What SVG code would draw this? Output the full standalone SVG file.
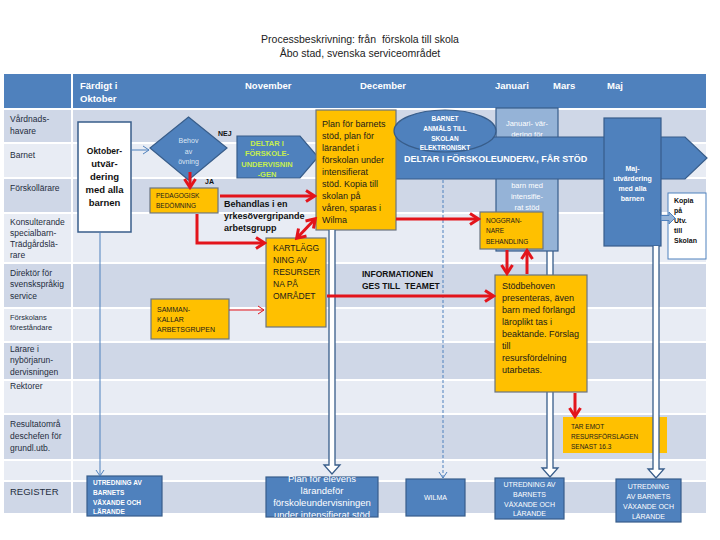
<svg xmlns="http://www.w3.org/2000/svg" width="720" height="540" viewBox="0 0 720 540">
<defs>
<style>
text{font-family:"Liberation Sans",Arial,sans-serif}
.title{font-size:10.5px;fill:#222;text-anchor:middle;white-space:pre}
.hd{font-size:9.5px;font-weight:bold;fill:#fff}
.rl{font-size:8.5px;fill:#1F2D3D}
.rs{font-size:7.5px;fill:#1F2D3D}
.dk{fill:#CFD7E7}
.lt{fill:#E8ECF4}
.yel{fill:#FFC000;stroke:#6A7480;stroke-width:1.2}
.blu{fill:#4F81BD;stroke:#385D8A;stroke-width:1.2}
.yt{font-size:9px;fill:#1a1a1a}
.ys{font-size:6.5px;fill:#1a1a1a}
.wt{fill:#fff}
.bk{font-weight:bold;fill:#111}
.red{stroke:#E3141B;stroke-width:3;fill:none}
.dbl{fill:#fff;stroke:#385D8A;stroke-width:1.3}
.thin{stroke:#4F81BD;stroke-width:1;fill:none}
</style>
<marker id="rh" markerUnits="userSpaceOnUse" markerWidth="14" markerHeight="14" viewBox="0 0 14 14" refX="11" refY="7" orient="auto-start-reverse">
<path d="M3,1.5 L11.5,7 L3,12.5" stroke="#E3141B" stroke-width="3" fill="none"/>
</marker>
<marker id="rt" markerUnits="userSpaceOnUse" markerWidth="10" markerHeight="10" viewBox="0 0 10 10" refX="8" refY="5" orient="auto">
<path d="M2,1 L8,5 L2,9" stroke="#E3141B" stroke-width="1" fill="none"/>
</marker>
<marker id="bh" markerUnits="userSpaceOnUse" markerWidth="10" markerHeight="10" viewBox="0 0 10 10" refX="8" refY="5" orient="auto">
<path d="M2,1 L8,5 L2,9" stroke="#4F81BD" stroke-width="1" fill="none"/>
</marker>
</defs>

<rect width="720" height="540" fill="#fff"/>
<text class="title" x="360" y="43" xml:space="preserve">Processbeskrivning: från  förskola till skola</text>
<text class="title" x="360" y="57">Åbo stad, svenska serviceområdet</text>

<g id="table">
<rect x="4" y="74" width="702" height="34" fill="#4F81BD"/>
<rect x="4" y="110" width="702" height="32" class="dk"/>
<rect x="4" y="144" width="702" height="33" class="lt"/>
<rect x="4" y="179" width="702" height="33" class="dk"/>
<rect x="4" y="214" width="702" height="48" class="lt"/>
<rect x="4" y="264" width="702" height="43" class="dk"/>
<rect x="4" y="309" width="702" height="32" class="lt"/>
<rect x="4" y="343" width="702" height="36" class="dk"/>
<rect x="4" y="381" width="702" height="32" class="lt"/>
<rect x="4" y="415" width="702" height="44" class="dk"/>
<rect x="4" y="461" width="702" height="19" class="lt"/>
<rect x="4" y="482" width="702" height="31" class="dk"/>
<line x1="72" y1="74" x2="72" y2="513" stroke="#fff" stroke-width="2"/>
<text class="hd" x="80" y="89">Färdigt i</text>
<text class="hd" x="80" y="102">Oktober</text>
<text class="hd" x="245" y="89">November</text>
<text class="hd" x="360" y="89">December</text>
<text class="hd" x="495" y="89">Januari</text>
<text class="hd" x="553" y="89">Mars</text>
<text class="hd" x="607" y="89">Maj</text>
<text class="rl" x="10" y="122">Vårdnads-</text>
<text class="rl" x="10" y="134">havare</text>
<text class="rl" x="10" y="158">Barnet</text>
<text class="rl" x="10" y="191">Förskollärare</text>
<text class="rl" x="10" y="225">Konsulterande</text>
<text class="rl" x="10" y="236">specialbarn-</text>
<text class="rl" x="10" y="247">Trädgårdslä-</text>
<text class="rl" x="10" y="258">rare</text>
<text class="rl" x="10" y="276">Direktör för</text>
<text class="rl" x="10" y="287">svenskspråkig</text>
<text class="rl" x="10" y="299">service</text>
<text class="rs" x="10" y="320">Förskolans</text>
<text class="rs" x="10" y="330">föreståndare</text>
<text class="rl" x="10" y="352">Lärare i</text>
<text class="rl" x="10" y="363">nybörjarun-</text>
<text class="rl" x="10" y="375">dervisningen</text>
<text class="rl" x="10" y="389">Rektorer</text>
<text class="rl" x="10" y="427">Resultatområ</text>
<text class="rl" x="10" y="439">deschefen för</text>
<text class="rl" x="10" y="451">grundl.utb.</text>
<text class="rl" x="10" y="495" style="font-size:9.5px">REGISTER</text>
</g>

<g id="connectors-under">
<path class="dbl" d="M547,251 V468 H542 L550,477 L558,468 H553 V251"/>
</g>

<g id="oktober">
<rect x="78" y="122" width="53" height="110" fill="#fff" stroke="#385D8A" stroke-width="1.5"/>
<g class="bk" text-anchor="middle" style="font-size:9.5px">
<text x="104.5" y="154" style="font-size:8.5px">Oktober-</text>
<text x="104.5" y="167">utvär-</text>
<text x="104.5" y="180">dering</text>
<text x="104.5" y="193">med alla</text>
<text x="104.5" y="206">barnen</text>
</g>
</g>

<g id="behov">
<path d="M188.5,117 L227,148 L188.5,180 L150,148 Z" class="blu"/>
<g text-anchor="middle" style="font-size:7px" fill="#DCE6F4">
<text x="188.5" y="143">Behov</text>
<text x="188.5" y="154">av</text>
<text x="188.5" y="164">övning</text>
</g>
<text x="218" y="136" class="bk" style="font-size:7px">NEJ</text>
<text x="205" y="184" class="bk" style="font-size:7px">JA</text>
</g>

<g id="deltar1">
<path d="M237,136 H300 L318,157 L300,178 H237 Z" class="blu"/>
<g text-anchor="middle" font-weight="bold" style="font-size:7.5px" fill="#C6EF4E">
<text x="267" y="145.5">DELTAR I</text>
<text x="267" y="156">FÖRSKOLE-</text>
<text x="267" y="166.5">UNDERVISNIN</text>
<text x="267" y="177">-GEN</text>
</g>
</g>

<g id="januari">
<rect x="496" y="108" width="62" height="143" fill="#95B3D7" stroke="#385D8A" stroke-width="1.2"/>
<g class="wt" text-anchor="middle" style="font-size:7.5px">
<text x="527" y="126">Januari- vär-</text>
<text x="527" y="137">dering för</text>
<text x="527" y="188">barn med</text>
<text x="527" y="199">intensifie-</text>
<text x="527" y="210">rat stöd</text>
</g>
</g>

<g id="bigarrow">
<path d="M390,137 H685 L707,158 L685,179 H390 Z" class="blu"/>
<text x="404" y="162" class="wt" font-weight="bold" style="font-size:9px">DELTAR I FÖRSKOLEUNDERV., FÅR STÖD</text>
</g>

<g id="plan">
<rect x="316" y="110" width="80" height="120" class="yel"/>
<g class="yt">
<text x="322" y="127">Plan för barnets</text>
<text x="322" y="139">stöd, plan för</text>
<text x="322" y="151">lärandet i</text>
<text x="322" y="163">förskolan under</text>
<text x="322" y="175">intensifierat</text>
<text x="322" y="187">stöd. Kopia till</text>
<text x="322" y="199">skolan på</text>
<text x="322" y="211">våren, sparas i</text>
<text x="322" y="223">Wilma</text>
</g>
</g>

<g id="anmals">
<ellipse cx="445" cy="131" rx="51" ry="21" class="blu"/>
<g class="wt" text-anchor="middle" font-weight="bold" style="font-size:6.5px">
<text x="445" y="121">BARNET</text>
<text x="445" y="131">ANMÄLS TILL</text>
<text x="445" y="141">SKOLAN</text>
<text x="445" y="150">ELEKTRONISKT</text>
</g>
</g>

<g id="maj">
<rect x="604" y="118" width="57" height="128" class="blu"/>
<g class="wt" text-anchor="middle" font-weight="bold" style="font-size:7px">
<text x="632.5" y="171">Maj-</text>
<text x="632.5" y="181">utvärdering</text>
<text x="632.5" y="191">med alla</text>
<text x="632.5" y="201">barnen</text>
</g>
</g>

<g id="kopia">
<rect x="668" y="193" width="38" height="66" fill="#fff" stroke="#4F81BD" stroke-width="1"/>
<g class="bk" style="font-size:7px">
<text x="674" y="203">Kopia</text>
<text x="674" y="213">på</text>
<text x="674" y="223">Utv.</text>
<text x="674" y="233">till</text>
<text x="674" y="243">Skolan</text>
</g>
</g>

<g id="pedagogisk">
<rect x="150" y="188" width="68" height="25" class="yel"/>
<text x="156" y="198" class="ys">PEDAGOGISK</text>
<text x="156" y="208" class="ys">BEDÖMNING</text>
</g>

<g id="behandlas">
<g class="bk" style="font-size:9px">
<text x="224" y="207">Behandlas i en</text>
<text x="224" y="219">yrkesövergripande</text>
<text x="224" y="231">arbetsgrupp</text>
</g>
</g>

<g id="noggrannare">
<rect x="480" y="212" width="63" height="37" class="yel"/>
<text x="486" y="223" class="ys">NOGGRAN-</text>
<text x="486" y="233" class="ys">NARE</text>
<text x="486" y="244" class="ys">BEHANDLING</text>
</g>

<g id="kartlagg">
<rect x="266" y="238" width="60" height="89" class="yel"/>
<g class="yt" style="font-size:8.5px">
<text x="273" y="251">KARTLÄGG</text>
<text x="273" y="263">NING AV</text>
<text x="273" y="275">RESURSER</text>
<text x="273" y="287">NA PÅ</text>
<text x="273" y="299">OMRÅDET</text>
</g>
</g>

<g id="samman">
<rect x="151" y="299" width="78" height="40" class="yel"/>
<text x="157" y="312" class="ys" style="font-size:7px">SAMMAN-</text>
<text x="157" y="322" class="ys" style="font-size:7px">KALLAR</text>
<text x="157" y="332" class="ys" style="font-size:7px">ARBETSGRUPEN</text>
</g>

<g id="informationen">
<text x="362" y="277" class="bk" style="font-size:8.5px">INFORMATIONEN</text>
<text x="362" y="289" class="bk" style="font-size:8.5px;white-space:pre" xml:space="preserve">GES TILL  TEAMET</text>
</g>

<g id="stodbehoven">
<rect x="495" y="275" width="92" height="117" class="yel"/>
<g class="yt">
<text x="502" y="289">Stödbehoven</text>
<text x="502" y="301">presenteras, även</text>
<text x="502" y="313">barn med förlängd</text>
<text x="502" y="325">läroplikt tas i</text>
<text x="502" y="337">beaktande. Förslag</text>
<text x="502" y="349">till</text>
<text x="502" y="361">resursfördelning</text>
<text x="502" y="373">utarbetas.</text>
</g>
</g>

<g id="taremot">
<rect x="563" y="417" width="104" height="36" fill="#FFC000"/>
<text x="571" y="429" class="ys">TAR EMOT</text>
<text x="571" y="439" class="ys">RESURSFÖRSLAGEN</text>
<text x="571" y="449" class="ys">SENAST 16.3</text>
</g>

<g id="utredning1">
<rect x="87" y="476" width="75" height="40" class="blu"/>
<g class="wt" font-weight="bold" style="font-size:6.5px">
<text x="93" y="485">UTREDNING AV</text>
<text x="93" y="495">BARNETS</text>
<text x="93" y="505">VÄXANDE OCH</text>
<text x="93" y="514">LÄRANDE</text>
</g>
</g>

<g id="planelevens">
<clipPath id="pc"><rect x="266" y="476" width="112" height="41"/></clipPath>
<rect x="266" y="477" width="112" height="40" class="blu"/>
<g class="wt" text-anchor="middle" style="font-size:9.5px" clip-path="url(#pc)">
<text x="322" y="482">Plan för elevens</text>
<text x="322" y="494">lärandeför</text>
<text x="322" y="506">förskoleundervisningen</text>
<text x="322" y="518">under intensifierat stöd</text>
</g>
</g>

<g id="wilma">
<rect x="406" y="479" width="59" height="37" class="blu"/>
<text x="435.5" y="500" class="wt" text-anchor="middle" style="font-size:7px">WILMA</text>
</g>

<g id="utredning2">
<rect x="495" y="478" width="69" height="41" class="blu"/>
<g class="wt" text-anchor="middle" style="font-size:7px">
<text x="529.5" y="487">UTREDNING AV</text>
<text x="529.5" y="497">BARNETS</text>
<text x="529.5" y="507">VÄXANDE OCH</text>
<text x="529.5" y="516">LÄRANDE</text>
</g>
</g>

<g id="utredning3">
<rect x="616" y="479" width="65" height="43" class="blu"/>
<g class="wt" text-anchor="middle" style="font-size:7px">
<text x="648.5" y="489">UTREDNING</text>
<text x="648.5" y="499">AV BARNETS</text>
<text x="648.5" y="509">VÄXANDE OCH</text>
<text x="648.5" y="519">LÄRANDE</text>
</g>
</g>

<g id="connectors">
<path class="thin" d="M131,150 H149" marker-end="url(#bh)"/>
<path class="thin" d="M100,232 V476" marker-end="url(#bh)"/>
<path class="thin" d="M443,180 V478" stroke-dasharray="3,2" marker-end="url(#bh)"/>
<path class="dbl" d="M329,230 V465 H324 L332,474 L340,465 H335 V230"/>
<path class="dbl" d="M653,246 V469 H648 L656,478 L664,469 H659 V246"/>
<path d="M661,215.5 H669 V212 L675,218 L669,224 V220.5 H661 Z" fill="#95B3D7" stroke="#4F81BD" stroke-width="1"/>
<path class="red" d="M190,172 V187" marker-end="url(#rh)"/>
<path class="red" d="M220,196 H314" marker-end="url(#rh)"/>
<path class="red" d="M197,214 V243 H264" marker-end="url(#rh)"/>
<path class="red" d="M297,238 L315,219" marker-start="url(#rh)" marker-end="url(#rh)"/>
<path class="red" d="M396,219 H478" marker-end="url(#rh)"/>
<path class="red" d="M327,296 H493" marker-end="url(#rh)"/>
<path class="red" d="M507,250 V273" marker-end="url(#rh)"/>
<path class="red" d="M527,274 V251" marker-end="url(#rh)"/>
<path class="red" d="M575,393 V416" marker-end="url(#rh)"/>
<path d="M229,310 H264" stroke="#E3141B" stroke-width="1" fill="none" marker-end="url(#rt)"/>
</g>
</svg>
